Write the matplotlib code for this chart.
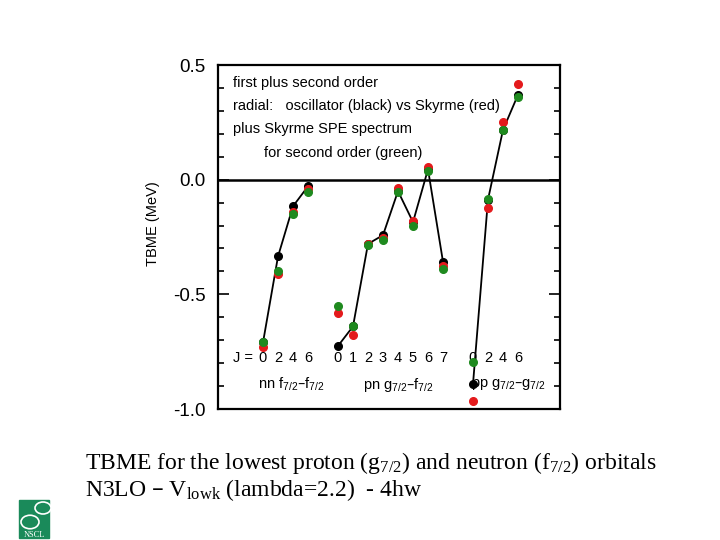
import numpy as np
import matplotlib.pyplot as plt
from matplotlib.patches import Rectangle, Circle

# Werte (MeV)
nn_J = [0, 2, 4, 6]
nn_black = [-0.71, -0.335, -0.116, -0.029]
nn_red = [-0.73, -0.41, -0.14, -0.04]
nn_green = [-0.707, -0.40, -0.148, -0.052]

pn_J = [0, 1, 2, 3, 4, 5, 6, 7]
pn_black = [-0.725, -0.64, -0.28, -0.242, -0.05, -0.185, 0.045, -0.358]
pn_red = [-0.583, -0.677, -0.28, -0.255, -0.036, -0.181, 0.055, -0.377]
pn_green = [-0.551, -0.638, -0.283, -0.261, -0.055, -0.203, 0.036, -0.388]

pp_J = [0, 2, 4, 6]
pp_black = [-0.891, -0.087, 0.217, 0.37]
pp_red = [-0.964, -0.123, 0.251, 0.417]
pp_green = [-0.794, -0.084, 0.217, 0.362]

info_lines = ["first plus second order",
              "radial:   oscillator (black) vs Skyrme (red)",
              "plus Skyrme SPE spectrum"]
info_last = "for second order (green)"

plt.rcParams['font.family'] = ['Liberation Sans', 'DejaVu Sans']

# x-Positionen der Gruppen
nn_x = np.array(nn_J) / 2
pn_x = 5 + np.array(pn_J)
pp_x = 14 + np.array(pp_J) / 2

fig = plt.figure(figsize=(7.2, 5.4), dpi=100)
ax = fig.add_axes([218 / 720, 1 - 409 / 540, 342 / 720, 344 / 540])

for xs, b, r, g in [(nn_x, nn_black, nn_red, nn_green),
                    (pn_x, pn_black, pn_red, pn_green),
                    (pp_x, pp_black, pp_red, pp_green)]:
    ax.plot(xs, b, color='black', lw=1.3, marker='o', ms=5.5, zorder=3)
    ax.plot(xs, r, ls='none', color='#e41a1c', marker='o', ms=5.5, zorder=4)
    ax.plot(xs, g, ls='none', color='#1f8a1f', marker='o', ms=5.5, zorder=5)

ax.axhline(0, color='black', lw=1.8, zorder=2)

ax.set_xlim(-3, 19.8)
ax.set_ylim(-1.0, 0.5)
ax.set_xticks([])
ax.set_yticks([0.5, 0.0, -0.5, -1.0])
ax.set_yticklabels(["0.5", "0.0", "-0.5", "-1.0"], fontsize=13.5)
ax.set_yticks(np.arange(-1.0, 0.51, 0.1), minor=True)
ax.tick_params(axis='y', which='major', direction='in', length=8, width=1.2,
               left=True, right=True, pad=9)
ax.tick_params(axis='y', which='minor', direction='in', length=4, width=1.2,
               left=True, right=True)
for sp in ax.spines.values():
    sp.set_linewidth(1.6)

fig.text(153 / 720, 1 - 224 / 540, "TBME (MeV)", rotation=90,
         ha='center', va='center', fontsize=10.5)

# Beschriftungen im Diagramm
fs = 10.5
for i, t in enumerate(info_lines):
    ax.text(-2, 0.423 - i * 0.1, t, fontsize=fs, ha='left', va='center')
ax.text(0.07, 0.118, info_last, fontsize=fs, ha='left', va='center')

ax.text(-2, -0.776, "J =", fontsize=fs, ha='left', va='center')
for xs, js in [(nn_x, nn_J), (pn_x, pn_J), (pp_x, pp_J)]:
    for x, j in zip(xs, js):
        ax.text(x, -0.776, str(j), fontsize=fs, ha='center', va='center')

ax.text(-0.3, -0.894, r"nn f$\mathregular{_{7/2}}$–f$\mathregular{_{7/2}}$",
        fontsize=fs, ha='left', va='center')
ax.text(6.7, -0.894, r"pn g$\mathregular{_{7/2}}$–f$\mathregular{_{7/2}}$",
        fontsize=fs, ha='left', va='center')
ax.text(13.9, -0.894, r"pp g$\mathregular{_{7/2}}$–g$\mathregular{_{7/2}}$",
        fontsize=fs, ha='left', va='center')

# Text unter dem Diagramm
fig.text(85 / 720, 1 - 463 / 540,
         r"TBME for the lowest proton (g$\mathregular{_{7/2}}$) and neutron (f$\mathregular{_{7/2}}$) orbitals",
         family='Liberation Serif', fontsize=17, ha='left', va='center')
fig.text(85 / 720, 1 - 490 / 540,
         r"N3LO – V$\mathregular{_{lowk}}$ (lambda=2.2)  - 4hw",
         family='Liberation Serif', fontsize=17, ha='left', va='center')

# Logo
logo_green = '#1a8a5a'
fig.patches.append(Rectangle((19 / 720, 1 - 538 / 540), 30 / 720, 38 / 540,
                             transform=fig.transFigure, color=logo_green))
fig.patches.append(Circle((43 / 720, 1 - 508 / 540), 8 / 720,
                          transform=fig.transFigure, fc=logo_green, ec='white', lw=1.2))
fig.patches.append(Circle((30 / 720, 1 - 522 / 540), 9 / 720,
                          transform=fig.transFigure, fc=logo_green, ec='white', lw=1.2))
fig.text(34 / 720, 1 - 535 / 540, "NSCL", family='Liberation Serif', fontsize=6,
         ha='center', va='center', color='white')

fig.savefig("out.png", dpi=100)
